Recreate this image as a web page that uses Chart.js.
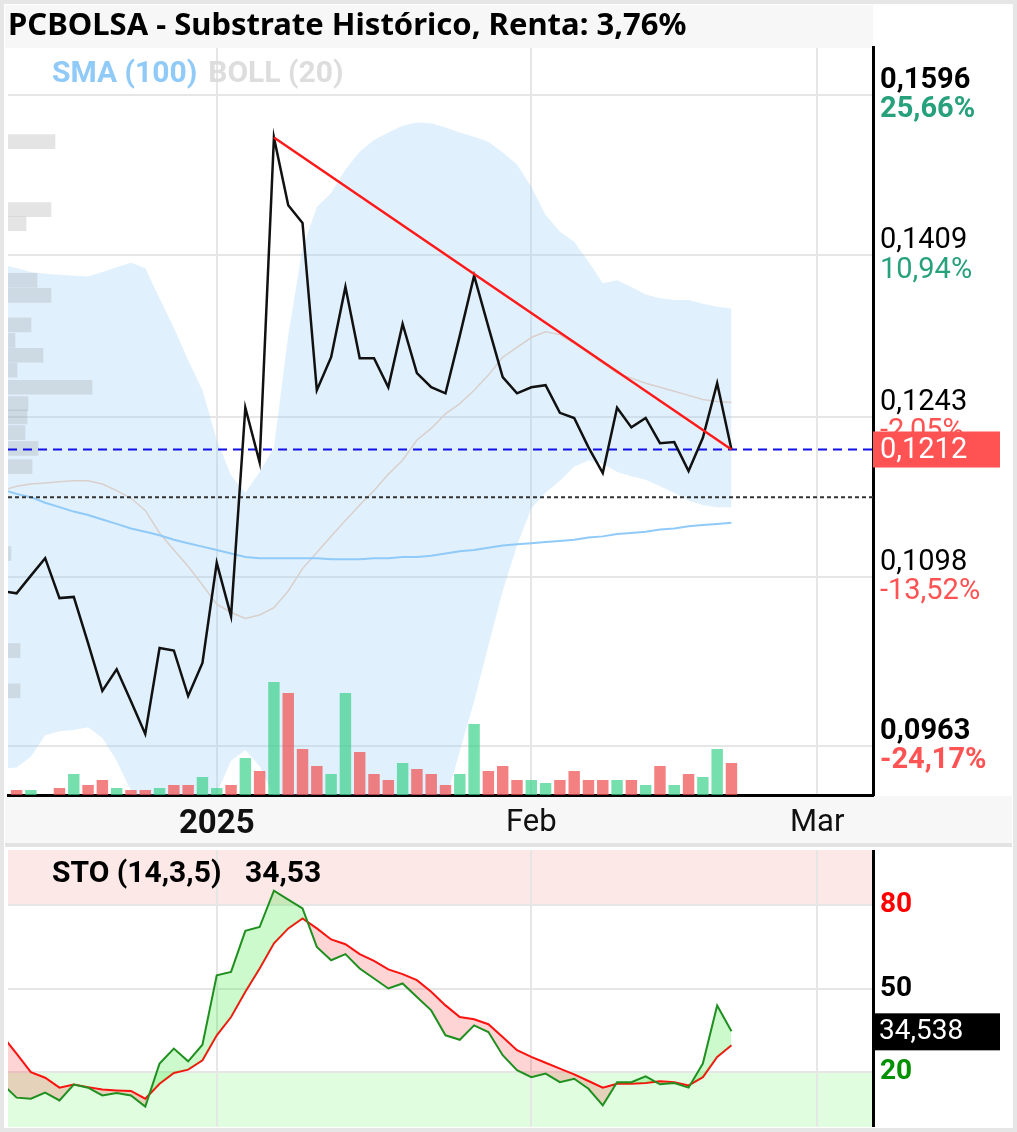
<!DOCTYPE html>
<html>
<head>
<meta charset="utf-8">
<title>PCBOLSA - Substrate Histórico</title>
<script src="https://cdn.jsdelivr.net/npm/chart.js@4.4.1/dist/chart.umd.min.js"></script>
<style>
  html, body { margin: 0; padding: 0; background: #fff; }
  #frame { position: absolute; left: 0; top: 0; width: 1017px; height: 1132px; box-sizing: border-box; border: 4px solid #e6e6e6; }
  .box { position: absolute; left: 5px; }
</style>
</head>
<body>
<div id="frame"></div>
<div class="box" style="top:5px"><canvas id="graph" width="1007" height="842"></canvas></div>
<div class="box" style="top:850px"><canvas id="sto" width="1007" height="277"></canvas></div>
<script>
// trading-day index: 0 = first session of 2025
const firstDay = -15;
const xMin = -14.6, xMax = 45.9;

const monthTicks = [0, 22, 42];
const monthLabels = ['2025', 'Feb', 'Mar'];

const priceTicks = [0.1596, 0.1409, 0.1243, 0.1098, 0.0963];
const priceTickLabels = ['0,1596', '0,1409', '0,1243', '0,1098', '0,0963'];
const pctTickLabels = ['25,66%', '10,94%', '-2,05%', '-13,52%', '-24,17%'];

const price = [0.1086, 0.1084, 0.1099, 0.1114, 0.1080, 0.1081, 0.1043, 0.1005, 0.1022, 0.0997,
  0.0972, 0.1039, 0.1037, 0.1001, 0.1027,
  0.1110, 0.1065, 0.1252, 0.1200, 0.1544, 0.1465, 0.1445, 0.1269, 0.1302, 0.1375,
  0.1301, 0.1301, 0.1272, 0.1336, 0.1286, 0.1272, 0.1266, 0.1324, 0.1387, 0.1333,
  0.1282, 0.1266, 0.1272, 0.1274, 0.1247, 0.1242, 0.1214, 0.1190, 0.1252, 0.1233,
  0.1242, 0.1218, 0.1219, 0.1192, 0.1223, 0.1276, 0.1212];

const volume = [6, 5, 5, 0, 7, 21, 10, 15, 7, 5, 5, 7, 10, 10, 18,
  7, 10, 37, 24, 113, 102, 46, 29, 21, 102, 43, 21, 15, 32, 26, 21, 10, 21, 71, 24,
  29, 15, 15, 12, 15, 24, 15, 15, 15, 15, 10, 29, 10, 21, 18, 46, 32].map(v => v * 1000);

const bollUpper = [0.1399, 0.1395, 0.1391, 0.1389, 0.1388, 0.1387, 0.1386, 0.1391, 0.1396, 0.1401,
  0.1395, 0.1363, 0.1332, 0.1299, 0.1269,
  0.1221, 0.1188, 0.1172, 0.1191, 0.1214, 0.1324, 0.1417, 0.1463, 0.1479, 0.1506,
  0.1527, 0.1541, 0.1550, 0.1558, 0.1562, 0.1561, 0.1556, 0.1550, 0.1545, 0.1539,
  0.1526, 0.1512, 0.1486, 0.1454, 0.1435, 0.1424, 0.1402, 0.1379, 0.1382, 0.1375,
  0.1367, 0.1363, 0.1361, 0.1361, 0.1357, 0.1354, 0.1352];
const bollLower = [0.0946, 0.0947, 0.0955, 0.0971, 0.0974, 0.0975, 0.0977, 0.0969, 0.0952, 0.0930,
  0.0901, 0.0881, 0.0874, 0.0884, 0.0905,
  0.0928, 0.0952, 0.0960, 0.0948, 0.0926, 0.0854, 0.0803, 0.0790, 0.0784, 0.0790,
  0.0797, 0.0806, 0.0815, 0.0828, 0.0854, 0.0888, 0.0923, 0.0959, 0.0997, 0.1041,
  0.1086, 0.1125, 0.1158, 0.1172, 0.1183, 0.1196, 0.1202, 0.1199, 0.1191, 0.1187,
  0.1184, 0.1178, 0.1172, 0.1165, 0.1161, 0.1159, 0.1159];
const bollMid = [0.1174, 0.1178, 0.1180, 0.1181, 0.1182, 0.1183, 0.1183, 0.1180, 0.1174, 0.1167,
  0.1156, 0.1136, 0.1121, 0.1107, 0.1091,
  0.1075, 0.1068, 0.1063, 0.1066, 0.1072, 0.1086, 0.1105, 0.1119, 0.1133, 0.1147,
  0.1161, 0.1174, 0.1189, 0.1202, 0.1221, 0.1232, 0.1246, 0.1256, 0.1269, 0.1284,
  0.1302, 0.1312, 0.1322, 0.1328, 0.1325, 0.1316, 0.1306, 0.1296, 0.1286, 0.1281,
  0.1276, 0.1272, 0.1268, 0.1264, 0.1260, 0.1258, 0.1257];
const sma100 = [0.1175, 0.1171, 0.1168, 0.1163, 0.1159, 0.1155, 0.1152, 0.1148, 0.1144, 0.1140,
  0.1137, 0.1134, 0.1130, 0.1127, 0.1124,
  0.1121, 0.1118, 0.1115, 0.1114, 0.1114, 0.1114, 0.1114, 0.1114, 0.1113, 0.1113,
  0.1113, 0.1114, 0.1114, 0.1115, 0.1115, 0.1116, 0.1118, 0.1120, 0.1121, 0.1123,
  0.1125, 0.1126, 0.1127, 0.1128, 0.1129, 0.1130, 0.1132, 0.1133, 0.1135, 0.1136,
  0.1137, 0.1139, 0.1140, 0.1142, 0.1143, 0.1144, 0.1145];

// volume profile (price level, volume)
const profilePrice = [0.1539, 0.1460, 0.1444, 0.1382, 0.1366, 0.1335, 0.1319, 0.1304, 0.1289,
  0.1272, 0.1256, 0.1243, 0.1228, 0.1213, 0.1196, 0.1118, 0.1037, 0.1005];
const profileVolume = [47, 43, 18, 29, 43, 23, 7, 35, 9, 84, 20, 19, 17, 30, 24, 3, 12, 12];

const trendDays = [4, 36];
const trendPrice = [0.1544, 0.1212];
const refPrice = 0.1168;

const stoK = [15.5, 10.6, 10.2, 12.4, 9.6, 15.3, 14.2, 11.4, 12.3, 11.4, 7.4, 22.9, 28.3, 23.7, 29.7,
  54.8, 56.0, 70.8, 72.2, 85.3, 82.1, 78.9, 65.0, 60.2, 62.4, 57.2, 53.6, 50.0, 51.8, 46.9,
  42.1, 33.1, 31.5, 36.7, 34.3, 25.9, 20.5, 18.0, 19.3, 16.2, 17.4, 13.8, 7.8, 16.2, 16.2,
  18.3, 15.4, 15.9, 14.2, 22.9, 43.9, 34.538];
const stoD = [33.0, 26.5, 19.8, 17.8, 14.2, 15.3, 14.4, 13.5, 13.2, 13.0, 10.2, 15.6, 19.5, 20.7, 24.1,
  33.1, 39.7, 48.8, 57.2, 66.3, 71.7, 75.3, 71.7, 67.7, 66.0, 62.4, 60.0, 56.9, 55.2, 53.0,
  48.8, 43.9, 39.7, 38.9, 37.1, 32.5, 27.7, 25.3, 23.2, 21.1, 19.0, 16.6, 14.2, 15.6, 15.6,
  15.9, 16.5, 16.2, 15.0, 18.0, 25.3, 29.5];
const stoTicks = [20, 50, 80];
const stoTickColors = ['#009000', '#000', '#ff0000'];

const lastPrice = price[price.length - 1];
const lastK = stoK[stoK.length - 1];

Chart.defaults.font.family = 'Roboto';
Chart.defaults.animation = false;

function pts(arr) {
  return arr.map((v, i) => ({ x: firstDay + i, y: v }));
}
function fmt(v, d) {
  return v.toFixed(d).replace('.', ',');
}
function isEdgeTick(v) {
  return v === Math.max(...priceTicks) || v === Math.min(...priceTicks);
}
const volColors = price.map((p, i) => (i > 0 && p > price[i - 1]) ? 'rgba(60,210,140,0.7)' : 'rgba(240,80,80,0.72)');

const monthX = {
  type: 'linear', min: xMin, max: xMax, offset: false,
  afterBuildTicks: s => { s.ticks = monthTicks.map(v => ({ value: v })); },
  grid: { color: '#e6e6e6', lineWidth: 2, drawTicks: false, offset: false },
};

const mainPlugin = {
  id: 'mainDeco',
  beforeDraw(chart) {
    const { ctx, chartArea: a, width, height } = chart;
    ctx.save();
    ctx.fillStyle = '#f7f7f7';
    ctx.fillRect(0, 0, a.right, a.top);
    ctx.fillRect(0, a.bottom + 1, width, height - a.bottom);
    ctx.fillStyle = '#e3e3e3';
    ctx.fillRect(0, height - 4, width, 4);
    ctx.restore();
  },
  afterDraw(chart) {
    const { ctx, chartArea: a, scales } = chart;
    ctx.save();
    ctx.textBaseline = 'middle';
    // legend
    ctx.font = 'bold 30px Roboto';
    ctx.fillStyle = '#90caf9';
    ctx.fillText('SMA (100)', a.left + 44, a.top + 26);
    const w = ctx.measureText('SMA (100)').width;
    ctx.fillStyle = '#dddddd';
    ctx.fillText('BOLL (20)', a.left + 44 + w + 11, a.top + 26);
    // percentage under each price tick
    priceTicks.forEach((v, i) => {
      const py = scales.y.getPixelForValue(v);
      ctx.font = (isEdgeTick(v) ? 'bold ' : '') + '29px Roboto';
      ctx.fillStyle = pctTickLabels[i].startsWith('-') ? '#ff5252' : '#26a17b';
      ctx.fillText(pctTickLabels[i], a.right + 7, py + 15);
    });
    // last price tag
    const y = scales.y.getPixelForValue(lastPrice);
    ctx.fillStyle = '#ff5252';
    ctx.fillRect(a.right, y - 18, 127, 36);
    ctx.fillStyle = '#fff';
    ctx.font = '29px Roboto';
    ctx.fillText(fmt(lastPrice, 4), a.right + 7, y + 1);
    ctx.restore();
  }
};

new Chart(document.getElementById('graph'), {
  type: 'line',
  data: {
    datasets: [
      { label: 'BOLL sup', data: pts(bollUpper), borderWidth: 0, pointRadius: 0, fill: '+1',
        backgroundColor: 'rgba(144,202,249,0.28)', order: 10 },
      { label: 'BOLL inf', data: pts(bollLower), borderWidth: 0, pointRadius: 0, fill: false, order: 10 },
      { type: 'bar', label: 'Perfil', indexAxis: 'y', xAxisID: 'xp', yAxisID: 'y',
        data: profilePrice.map((p, i) => ({ x: profileVolume[i], y: p })),
        backgroundColor: 'rgba(150,150,150,0.26)', barThickness: 14, grouped: false, order: 9 },
      { type: 'bar', label: 'Volumen', xAxisID: 'x', yAxisID: 'yv', data: pts(volume),
        backgroundColor: volColors, barPercentage: 0.8, categoryPercentage: 1, grouped: false, order: 8 },
      { label: 'BOLL (20)', data: pts(bollMid), borderColor: '#d9d0cc', borderWidth: 1.5, pointRadius: 0, order: 7 },
      { label: 'SMA (100)', data: pts(sma100), borderColor: '#90caf9', borderWidth: 2, pointRadius: 0, order: 6 },
      { label: 'ref', data: [{ x: xMin, y: refPrice }, { x: xMax, y: refPrice }], borderColor: '#333',
        borderWidth: 2, borderDash: [4, 3], pointRadius: 0, order: 5 },
      { label: 'ultimo', data: [{ x: xMin, y: lastPrice }, { x: xMax, y: lastPrice }], borderColor: '#1010e8',
        borderWidth: 2, borderDash: [9, 6], pointRadius: 0, order: 4 },
      { label: 'PCBOLSA', data: pts(price), borderColor: '#111', borderWidth: 2.5, pointRadius: 0, order: 2 },
      { label: 'tendencia', data: trendDays.map((d, i) => ({ x: d, y: trendPrice[i] })),
        borderColor: '#ff1a1a', borderWidth: 2.5, pointRadius: 0, order: 1 }
    ]
  },
  options: {
    responsive: false,
    layout: { padding: { left: 3 } },
    plugins: {
      legend: { display: false },
      tooltip: { enabled: false },
      title: {
        display: true, align: 'start', color: '#000',
        text: 'PCBOLSA - Substrate Histórico, Renta: 3,76%',
        font: { family: 'Noto Sans', size: 31, weight: 'bold' },
        padding: { top: 3, bottom: 2.8 }
      }
    },
    scales: {
      x: Object.assign({}, monthX, {
        afterFit: s => { s.height = 52; },
        border: { color: '#000', width: 3 },
        ticks: {
          padding: 10, autoSkip: false, maxRotation: 0, color: '#111',
          font: c => (c.index === 0 ? { size: 33, weight: 'bold' } : { size: 31, weight: 'normal' }),
          callback: v => monthLabels[monthTicks.indexOf(v)]
        }
      }),
      y: {
        type: 'logarithmic', position: 'right', min: 0.0927, max: 0.1655, offset: false,
        afterBuildTicks: s => { s.ticks = priceTicks.map(v => ({ value: v })); },
        afterFit: s => { s.width = 139; s.paddingTop = 0; s.paddingBottom = 0; },
        grid: { color: '#e6e6e6', lineWidth: 2, drawTicks: false, offset: false },
        border: { color: '#000', width: 3 },
        ticks: {
          padding: 7, autoSkip: false, color: '#000',
          font: c => ({ size: 29, lineHeight: 1, weight: (c.tick && isEdgeTick(c.tick.value)) ? 'bold' : 'normal' }),
          callback: v => [priceTickLabels[priceTicks.indexOf(v)], '']
        }
      },
      yv: { type: 'linear', display: false, min: 0, max: 747000 },
      xp: { type: 'linear', display: false, min: 0, max: 865 }
    }
  },
  plugins: [mainPlugin]
});

const stoPlugin = {
  id: 'stoDeco',
  beforeDraw(chart) {
    const { ctx, chartArea: a, scales: { y } } = chart;
    ctx.save();
    ctx.fillStyle = '#fde8e8';
    ctx.fillRect(a.left, y.getPixelForValue(100), a.width, y.getPixelForValue(80) - y.getPixelForValue(100));
    ctx.fillStyle = '#e0fde0';
    ctx.fillRect(a.left, y.getPixelForValue(20), a.width, y.getPixelForValue(0) - y.getPixelForValue(20));
    ctx.restore();
  },
  afterDraw(chart) {
    const { ctx, chartArea: a, scales: { y } } = chart;
    ctx.save();
    ctx.font = 'bold 30px Roboto';
    ctx.textBaseline = 'middle';
    ctx.fillStyle = '#000';
    ctx.fillText('STO (14,3,5)', a.left + 44, a.top + 24);
    ctx.fillText(fmt(Math.floor(lastK * 100) / 100, 2), a.left + 237, a.top + 24);
    const py = y.getPixelForValue(lastK);
    ctx.fillRect(a.right, py - 18, 127, 37);
    ctx.fillStyle = '#fff';
    ctx.font = '28px Roboto';
    ctx.fillText(fmt(lastK, 3), a.right + 6, py + 1);
    ctx.restore();
  }
};

new Chart(document.getElementById('sto'), {
  type: 'line',
  data: {
    datasets: [
      { label: '%K', data: pts(stoK), borderColor: '#1f8f1f', borderWidth: 2, pointRadius: 0,
        fill: { target: 1, above: 'rgba(0,230,0,0.2)', below: 'rgba(255,0,0,0.17)' } },
      { label: '%D', data: pts(stoD), borderColor: '#ff1010', borderWidth: 2, pointRadius: 0 }
    ]
  },
  options: {
    responsive: false,
    layout: { padding: { left: 3 } },
    plugins: { legend: { display: false }, tooltip: { enabled: false } },
    scales: {
      x: Object.assign({}, monthX, {
        afterFit: s => { s.height = 0; s.paddingLeft = 0; s.paddingRight = 0; },
        border: { display: false },
        ticks: { display: false }
      }),
      y: {
        position: 'right', min: 0, max: 100,
        afterBuildTicks: s => { s.ticks = stoTicks.map(v => ({ value: v })); },
        afterFit: s => { s.width = 139; s.paddingTop = 0; s.paddingBottom = 0; },
        grid: { color: '#e6e6e6', lineWidth: 2, drawTicks: false },
        border: { color: '#000', width: 3 },
        ticks: {
          padding: 7, autoSkip: false,
          color: c => stoTickColors[stoTicks.indexOf(c.tick.value)],
          font: { size: 28, weight: 'bold' }
        }
      }
    }
  },
  plugins: [stoPlugin]
});
</script>
</body>
</html>
